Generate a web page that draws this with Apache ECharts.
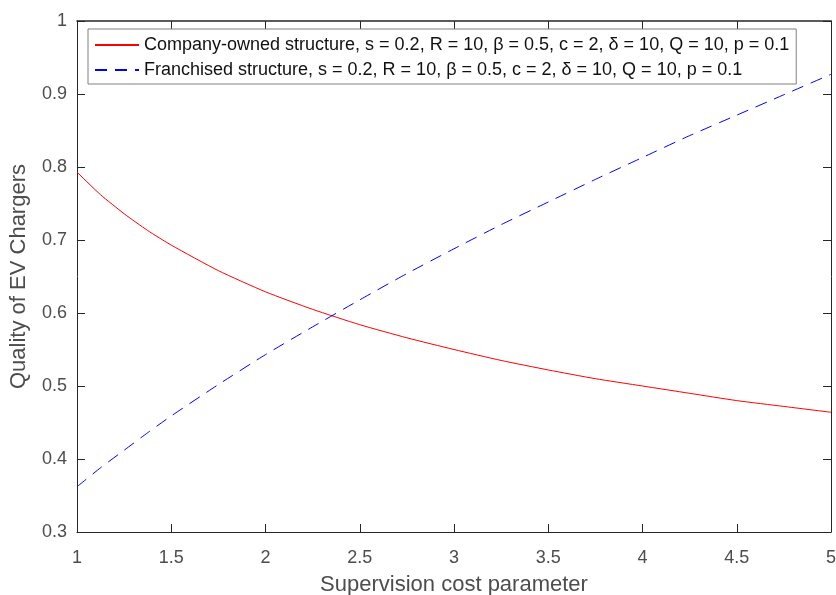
<!DOCTYPE html>
<html>
<head>
<meta charset="utf-8">
<title>Quality of EV Chargers</title>
<script src="https://cdn.jsdelivr.net/npm/echarts@6/dist/echarts.min.js"></script>
<style>
  html, body { margin: 0; padding: 0; background: #fff; }
  #main { width: 836px; height: 595px; }
</style>
</head>
<body>
<div id="main"></div>
<script>
// 监督成本参数 (x)
var costParam = [1, 1.125, 1.25, 1.375, 1.5, 1.75, 2, 2.25, 2.5, 2.75, 3, 3.25, 3.5, 3.75, 4, 4.25, 4.5, 4.75, 5];
// 直营结构
var companyOwned = [0.793, 0.762, 0.736, 0.713, 0.693, 0.658, 0.629, 0.605, 0.584, 0.566, 0.550, 0.535, 0.522, 0.510, 0.500, 0.490, 0.480, 0.472, 0.464];
// 特许经营结构
var franchised = [0.362, 0.388, 0.412, 0.436, 0.459, 0.502, 0.543, 0.581, 0.618, 0.654, 0.688, 0.721, 0.752, 0.783, 0.813, 0.843, 0.871, 0.899, 0.927];

var seriesNames = [
    'Company-owned structure, s = 0.2, R = 10, β = 0.5, c = 2, δ = 10, Q = 10, p = 0.1',
    'Franchised structure, s = 0.2, R = 10, β = 0.5, c = 2, δ = 10, Q = 10, p = 0.1'
];

function pairs(xs, ys) {
    return xs.map(function (x, i) { return [x, ys[i]]; });
}

var font = 'Arial, "Liberation Sans", Helvetica, sans-serif';
var axisColor = '#262626';
var labelColor = '#4d4d4d';

var chart = echarts.init(document.getElementById('main'), null, { renderer: 'canvas' });

chart.setOption({
    animation: false,
    backgroundColor: '#fff',
    grid: { left: 77, right: 5, top: 21, bottom: 63, containLabel: false, outerBoundsMode: 'none' },
    legend: {
        orient: 'vertical',
        left: 88,
        top: 29,
        padding: [7, 7, 5, 6],
        itemGap: 7,
        itemWidth: 44,
        itemHeight: 14,
        backgroundColor: '#fff',
        borderColor: '#808080',
        borderWidth: 1,
        borderRadius: 0,
        // 隐藏图例里的圆点，只留线段
        itemStyle: { color: 'rgba(0,0,0,0)', borderWidth: 0, opacity: 0 },
        textStyle: { fontFamily: font, fontSize: 18, color: '#111' },
        data: seriesNames
    },
    xAxis: [{
        type: 'value',
        min: 1, max: 5, interval: 0.5,
        name: 'Supervision cost parameter',
        nameLocation: 'middle',
        nameGap: 42,
        nameTextStyle: { fontFamily: font, fontSize: 22, color: labelColor },
        axisLine: { lineStyle: { color: axisColor, width: 1 } },
        axisTick: { inside: true, length: 8, lineStyle: { color: axisColor } },
        axisLabel: { margin: 17, fontFamily: font, fontSize: 18, color: labelColor, showMinLabel: true, showMaxLabel: true },
        splitLine: { show: false }
    }, {
        type: 'value',
        position: 'top',
        min: 1, max: 5, interval: 0.5,
        axisLine: { onZero: false, lineStyle: { color: axisColor, width: 1.5 } },
        axisTick: { inside: true, length: 8, lineStyle: { color: axisColor } },
        axisLabel: { show: false },
        splitLine: { show: false }
    }],
    yAxis: [{
        type: 'value',
        min: 0.3, max: 1, interval: 0.1,
        name: 'Quality of EV Chargers',
        nameLocation: 'middle',
        nameGap: 47,
        nameTextStyle: { fontFamily: font, fontSize: 22, color: labelColor },
        axisLine: { show: true, lineStyle: { color: axisColor, width: 1 } },
        axisTick: { show: true, inside: true, length: 8, lineStyle: { color: axisColor } },
        axisLabel: { margin: 10, fontFamily: font, fontSize: 18, color: labelColor, showMinLabel: true, showMaxLabel: true },
        splitLine: { show: false }
    }, {
        type: 'value',
        position: 'right',
        min: 0.3, max: 1, interval: 0.1,
        axisLine: { show: true, onZero: false, lineStyle: { color: axisColor, width: 1 } },
        axisTick: { show: true, inside: true, length: 8, lineStyle: { color: axisColor } },
        axisLabel: { show: false },
        splitLine: { show: false }
    }],
    series: [
        {
            name: seriesNames[0],
            type: 'line',
            data: pairs(costParam, companyOwned),
            smooth: 0.2,
            symbol: 'none',
            lineStyle: { color: '#ff0000', width: 1 },
            itemStyle: { color: '#ff0000' }
        },
        {
            name: seriesNames[1],
            type: 'line',
            data: pairs(costParam, franchised),
            smooth: 0.2,
            symbol: 'none',
            lineStyle: { color: '#0000ff', width: 1, type: [12, 8] },
            itemStyle: { color: '#0000ff' }
        }
    ]
});
</script>
</body>
</html>
